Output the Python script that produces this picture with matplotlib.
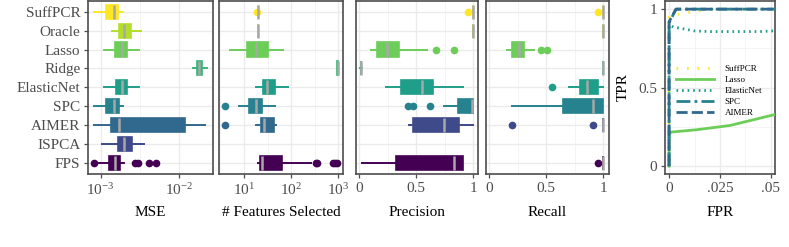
import matplotlib
matplotlib.use("Agg")
import matplotlib.pyplot as plt
from matplotlib.ticker import FixedLocator, NullFormatter, LogFormatterMathtext

plt.rcParams['font.family'] = ['Liberation Serif', 'DejaVu Serif']
plt.rcParams['mathtext.fontset'] = 'stix'

methods = ["SuffPCR", "Oracle", "Lasso", "Ridge", "ElasticNet", "SPC", "AIMER", "ISPCA", "FPS"]
colors = ["#FDE725", "#B4DE2C", "#6DCD59", "#35B779", "#1F9E89", "#26828E", "#31688E", "#3E4A89", "#440154"]
colors_pr = ["#FDE725", "#B4DE2C", "#6DCD59", "#35B779", "#1F9E89", "#26828E", "#3E4A89", "#3E4A89", "#440154"]

# (whislo, q1, med, q3, whishi) per method, None = not shown
mse_stats = [[8.3e-4, 1.17e-3, 1.48e-3, 1.67e-3, 1.94e-3],
             [1.41e-3, 1.71e-3, 1.99e-3, 2.41e-3, 3.26e-3],
             [1.10e-3, 1.53e-3, 1.87e-3, 2.14e-3, 3.04e-3],
             [0.0151, 0.0166, 0.0180, 0.0196, 0.0223],
             [1.11e-3, 1.55e-3, 1.87e-3, 2.18e-3, 3.10e-3],
             [8.3e-4, 1.17e-3, 1.46e-3, 1.69e-3, 1.94e-3],
             [8.3e-4, 1.35e-3, 1.73e-3, 0.0118, 0.0210],
             [1.03e-3, 1.67e-3, 1.98e-3, 2.50e-3, 3.52e-3],
             [9.5e-4, 1.29e-3, 1.52e-3, 1.76e-3, 1.98e-3]]
mse_fliers = [[], [], [], [], [], [], [], [], [8.2e-4, 2.73e-3, 2.95e-3, 4.1e-3, 5.05e-3]]

feat_stats = [[20, 20, 20, 20, 20],
              [20, 20, 20, 20, 20],
              [5.0, 11.7, 17.7, 31.8, 66],
              [940, 960, 975, 990, 1000],
              [18, 25.7, 31.2, 45.4, 87],
              [7.9, 12.8, 18, 23.7, 45.4],
              [18, 22.9, 27, 43.9, 46.8],
              None,
              [20, 21.5, 24, 63, 260]]
feat_fliers = [[19], [], [], [], [], [3.95], [3.95], [], [330, 360, 760, 850, 950]]

prec_stats = [[1, 1, 1, 1, 1],
              [0.995, 1, 1, 1, 1],
              [0.105, 0.155, 0.245, 0.35, 0.592],
              [0.012, 0.015, 0.018, 0.021, 0.024],
              [0.236, 0.367, 0.554, 0.645, 0.907],
              [0.744, 0.863, 0.99, 1.0, 1.0],
              [0.44, 0.47, 0.741, 0.875, 1.0],
              None,
              [0.024, 0.324, 0.829, 0.913, 0.913]]
prec_fliers = [[0.951], [], [0.671, 0.834], [], [], [0.431, 0.475, 0.624], [], [], []]

rec_stats = [[1, 1, 1, 1, 1],
             [1, 1, 1, 1, 1],
             [0.16, 0.198, 0.26, 0.309, 0.396],
             [1, 1, 1, 1, 1],
             [0.703, 0.796, 0.855, 0.956, 1.0],
             [0.204, 0.645, 0.907, 1.0, 1.0],
             [1, 1, 1, 1, 1],
             None,
             [1, 1, 1, 1, 1]]
rec_fliers = [[0.951], [], [0.452, 0.505], [], [0.551], [], [0.204, 0.907], [], [0.951]]

# ROC curves
roc_names = ["SuffPCR", "Lasso", "ElasticNet", "SPC", "AIMER"]
roc_colors = ["#FDE725", "#6DCD59", "#1F9E89", "#26828E", "#31688E"]
roc_fpr = [[0, 0, 0.004, 0.008, 0.012, 0.016, 0.02, 0.052],
           [0, 0, 0.001, 0.0136, 0.0299, 0.052],
           [0, 0, 0.0021, 0.0127, 0.02, 0.0446, 0.052],
           [0, 0, 0.0034, 0.052],
           [0, 0, 0.0034, 0.052]]
roc_tpr = [[0, 0.95, 0.966, 0.975, 0.984, 0.993, 1.0, 1.0],
           [0, 0.20, 0.217, 0.232, 0.259, 0.329],
           [0, 0.90, 0.886, 0.861, 0.857, 0.857, 0.862],
           [0, 0.913, 1.0, 1.0],
           [0, 0.92, 1.0, 1.0]]
roc_dashes = [(0.6, 3.2), (), (0.6, 1.4), (5, 1.5, 1, 1.5), (4, 1.5)]

W, H = 789, 247
fig = plt.figure(figsize=(W / 100, H / 100), dpi=100)


def px_axes(x0, x1, y0=0.5, y1=174):
    return fig.add_axes([x0 / W, 1 - y1 / H, (x1 - x0) / W, (y1 - y0) / H])


def style(ax):
    for s in ax.spines.values():
        s.set_color("#4D4D4D")
        s.set_linewidth(1.2)
    ax.tick_params(axis="both", which="major", colors="#4D4D4D", labelcolor="#4D4D4D",
                   labelsize=11, length=3, width=0.9, pad=2.5)
    ax.tick_params(axis="both", which="minor", length=0)
    ax.grid(True, which="major", color="#EBEBEB", lw=1.0, zorder=0)
    ax.grid(True, which="minor", color="#F2F2F2", lw=0.6, zorder=0)
    ax.set_axisbelow(True)


def boxes(ax, stats, fliers, cols):
    n = len(methods)
    for i in range(n):
        if stats[i] is None:
            continue
        lo, q1, med, q3, hi = stats[i]
        c = cols[i]
        pos = n - i
        st = dict(whislo=lo, q1=q1, med=med, q3=q3, whishi=hi, fliers=fliers[i])
        ax.bxp([st], positions=[pos], widths=0.75, orientation="horizontal",
               patch_artist=True, showcaps=False,
               boxprops=dict(facecolor=c, edgecolor=c, linewidth=1.2),
               whiskerprops=dict(color=c, linewidth=1.4),
               medianprops=dict(color="#A8A8A8", linewidth=1.8),
               flierprops=dict(marker="o", markerfacecolor=c, markeredgecolor=c, markersize=4.5))
    ax.set_ylim(0.4, 9.6)
    ax.set_yticks(range(1, n + 1))


ax1 = px_axes(88, 212.7)
ax2 = px_axes(219, 343.3)
ax3 = px_axes(356, 478.3)
ax4 = px_axes(485.7, 609)
ax5 = px_axes(665, 775)

boxes(ax1, mse_stats, mse_fliers, colors)
boxes(ax2, feat_stats, feat_fliers, colors)
boxes(ax3, prec_stats, prec_fliers, colors_pr)
boxes(ax4, rec_stats, rec_fliers, colors_pr)

ax1.set_xscale("log")
ax1.set_xlim(10 ** -3.16, 10 ** -1.575)
ax1.xaxis.set_major_locator(FixedLocator([1e-3, 1e-2]))
ax1.xaxis.set_minor_locator(FixedLocator([10 ** -3.5, 10 ** -2.5, 10 ** -1.5]))
ax1.xaxis.set_major_formatter(LogFormatterMathtext())
ax1.xaxis.set_minor_formatter(NullFormatter())
ax1.set_yticklabels(methods[::-1])

ax2.set_xscale("log")
ax2.set_xlim(10 ** 0.47, 10 ** 3.106)
ax2.xaxis.set_major_locator(FixedLocator([10, 100, 1000]))
ax2.xaxis.set_minor_locator(FixedLocator([10 ** 0.5, 10 ** 1.5, 10 ** 2.5]))
ax2.xaxis.set_major_formatter(LogFormatterMathtext())
ax2.xaxis.set_minor_formatter(NullFormatter())

for ax, lo, hi in [(ax3, -0.026, 1.044), (ax4, -0.029, 1.05)]:
    ax.set_xlim(lo, hi)
    ax.set_xticks([0, 0.5, 1])
    ax.set_xticklabels(["0", "0.5", "1"])
    ax.xaxis.set_minor_locator(FixedLocator([0.25, 0.75]))

for ax in [ax2, ax3, ax4]:
    ax.set_yticklabels([])

for ax in [ax1, ax2, ax3, ax4, ax5]:
    style(ax)
for ax in [ax2, ax3, ax4]:
    ax.tick_params(axis="y", which="major", length=0)

labels = ["MSE", "# Features Selected", "Precision", "Recall"]
for ax, lab in zip([ax1, ax2, ax3, ax4], labels):
    ax.set_xlabel(lab, fontsize=11, color="black")
    ax.xaxis.set_label_coords(0.5, -0.185)

# ROC panel
for i in range(len(roc_names)):
    line, = ax5.plot(roc_fpr[i], roc_tpr[i], color=roc_colors[i], lw=2.0,
                     label=roc_names[i], zorder=3 + i * 0.1)
    if roc_dashes[i]:
        line.set_dashes(roc_dashes[i])
ax5.set_xlim(-0.002, 0.052)
ax5.set_ylim(-0.05, 1.055)
ax5.set_xticks([0, 0.025, 0.05])
ax5.set_xticklabels(["0", ".025", ".05"])
ax5.set_yticks([0, 0.5, 1])
ax5.set_yticklabels(["0", "0.5", "1"])
ax5.xaxis.set_minor_locator(FixedLocator([0.0125, 0.0375]))
ax5.yaxis.set_minor_locator(FixedLocator([0.25, 0.75]))
ax5.set_xlabel("FPR", fontsize=11)
ax5.xaxis.set_label_coords(0.5, -0.185)
fig.text(623 / W, 1 - 87 / H, "TPR", rotation=90, ha="center", va="center", fontsize=11)
ax5.legend(loc="center left", bbox_to_anchor=(0.06, 0.478), frameon=False, fontsize=6.5,
           handlelength=4.2, labelspacing=0.3, handletextpad=1.2, borderpad=0)

fig.savefig("out.png", dpi=100)
